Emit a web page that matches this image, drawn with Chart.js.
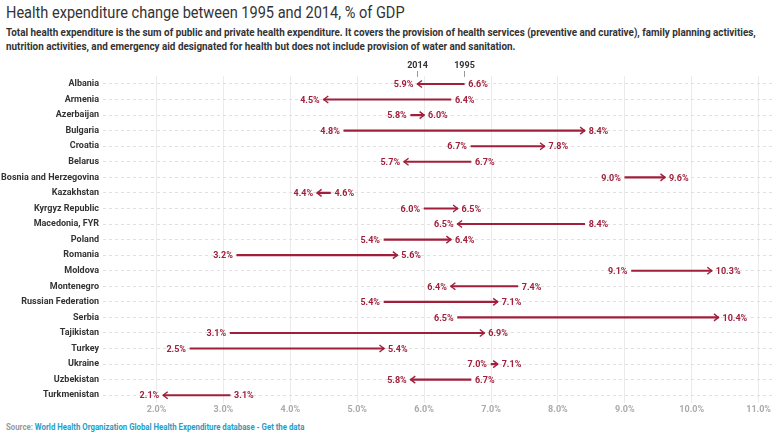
<!DOCTYPE html>
<html>
<head>
<meta charset="utf-8">
<script src="https://cdn.jsdelivr.net/npm/chart.js@4"></script>
<style>
  body { margin: 0; width: 780px; height: 440px; overflow: hidden; background: #fff; font-family: Roboto, sans-serif; position: relative; }
  #title { position: absolute; left: 6px; top: 3px; font-size: 16px; color: #333; white-space: nowrap; transform: scaleX(0.91); transform-origin: left top; }
  #subtitle { position: absolute; left: 6px; top: 26px; width: 815px; font-size: 10.5px; line-height: 14px; font-weight: bold; color: #333; transform: scaleX(0.94); transform-origin: left top; }
  #source { position: absolute; left: 6px; top: 422px; font-size: 8.5px; font-weight: bold; color: #999; white-space: nowrap; transform: scaleX(0.92); transform-origin: left top; }
  #source span { color: #2a9cc4; }
  #wrap { position: absolute; left: 0; top: 58px; width: 780px; height: 359px; }
</style>
</head>
<body>
<div id="title">Health expenditure change between 1995 and 2014, % of GDP</div>
<div id="subtitle">Total health expenditure is the sum of public and private health expenditure. It covers the provision of health services (preventive and curative), family planning activities, nutrition activities, and emergency aid designated for health but does not include provision of water and sanitation.</div>
<div id="wrap"><canvas id="chart"></canvas></div>
<div id="source">Source: <span>World Health Organization Global Health Expenditure database - Get the data</span></div>
<script>
// countries, top to bottom
const countries = [
    'Albania', 'Armenia', 'Azerbaijan', 'Bulgaria', 'Croatia', 'Belarus',
    'Bosnia and Herzegovina', 'Kazakhstan', 'Kyrgyz Republic', 'Macedonia, FYR',
    'Poland', 'Romania', 'Moldova', 'Montenegro', 'Russian Federation', 'Serbia',
    'Tajikistan', 'Turkey', 'Ukraine', 'Uzbekistan', 'Turkmenistan'
];
// % of GDP
const values1995 = [6.6, 6.4, 5.8, 4.8, 6.7, 6.7, 9.0, 4.6, 6.0, 8.4, 5.4, 3.2, 9.1, 7.4, 5.4, 6.5, 3.1, 2.5, 7.0, 6.7, 3.1];
const values2014 = [5.9, 4.5, 6.0, 8.4, 7.8, 5.7, 9.6, 4.4, 6.5, 6.5, 6.4, 5.6, 10.3, 6.4, 7.1, 10.4, 6.9, 5.4, 7.1, 5.8, 2.1];
const xTicks = [2, 3, 4, 5, 6, 7, 8, 9, 10, 11];

const RED = '#a01f3b';
const pct = v => v.toFixed(1) + '%';

// arrow heads, end labels and the little 2014/1995 key
const arrowPlugin = {
    id: 'arrows',
    afterDatasetsDraw(chart) {
        const { ctx, scales: { x, y } } = chart;
        ctx.save();
        ctx.font = 'bold 9px Roboto, sans-serif';
        ctx.textBaseline = 'middle';
        countries.forEach((c, i) => {
            const yy = y.getPixelForValue(i);
            const a = x.getPixelForValue(values1995[i]);
            const b = x.getPixelForValue(values2014[i]);
            const dir = b >= a ? 1 : -1;

            // chevron at the 2014 end
            ctx.strokeStyle = RED;
            ctx.lineWidth = 1.4;
            ctx.beginPath();
            ctx.moveTo(b - dir * 4.5, yy - 3.5);
            ctx.lineTo(b, yy);
            ctx.lineTo(b - dir * 4.5, yy + 3.5);
            ctx.stroke();

            ctx.fillStyle = RED;
            const left = Math.min(a, b), right = Math.max(a, b);
            const leftVal = dir > 0 ? values1995[i] : values2014[i];
            const rightVal = dir > 0 ? values2014[i] : values1995[i];
            ctx.textAlign = 'right';
            ctx.fillText(pct(leftVal), left - 4, yy + 1);
            ctx.textAlign = 'left';
            ctx.fillText(pct(rightVal), right + 4, yy + 1);
        });

        // key above the first row
        const y0 = y.getPixelForValue(0);
        ctx.fillStyle = '#333';
        ctx.strokeStyle = '#999';
        ctx.lineWidth = 1;
        ctx.textAlign = 'center';
        [[values2014[0], '2014'], [values1995[0], '1995']].forEach(([v, t]) => {
            const px = Math.round(x.getPixelForValue(v)) + 0.5;
            ctx.fillText(t, px, y0 - 18);
            ctx.beginPath();
            ctx.moveTo(px, y0 - 13);
            ctx.lineTo(px, y0 - 7);
            ctx.stroke();
        });
        ctx.restore();
    }
};

new Chart(document.getElementById('chart'), {
    type: 'bar',
    data: {
        labels: countries,
        datasets: [{
            data: countries.map((c, i) => [values1995[i], values2014[i]]),
            backgroundColor: RED,
            barThickness: 1.5,
            borderSkipped: false
        }]
    },
    options: {
        indexAxis: 'y',
        responsive: true,
        maintainAspectRatio: false,
        animation: false,
        layout: { padding: { top: 18.2, right: 8, bottom: 0, left: 0 } },
        plugins: {
            legend: { display: false },
            tooltip: { enabled: false }
        },
        scales: {
            x: {
                type: 'linear',
                min: 1.2,
                max: 11.2,
                afterBuildTicks: axis => { axis.ticks = xTicks.map(v => ({ value: v })); },
                afterFit: s => { s.height = 14; },
                grid: { color: '#ebebeb', drawTicks: false },
                border: { display: false },
                ticks: {
                    padding: 1,
                    color: '#aaa',
                    font: { family: 'Roboto', size: 9, weight: 'bold' },
                    callback: v => pct(v)
                }
            },
            y: {
                afterFit: s => { s.width = 103; },
                grid: { offset: false, color: '#e0e0e0', drawTicks: false },
                border: { display: false, dash: [3, 3] },
                ticks: {
                    padding: 4,
                    color: '#333',
                    font: { family: 'Roboto', size: 9, weight: 'bold' }
                }
            }
        }
    },
    plugins: [arrowPlugin]
});
</script>
</body>
</html>
